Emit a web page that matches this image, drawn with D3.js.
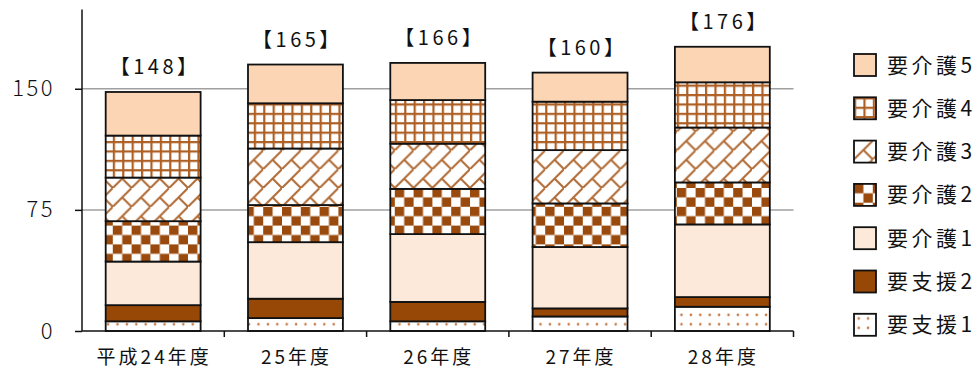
<!DOCTYPE html>
<html>
<head>
<meta charset="utf-8">
<script src="https://cdn.jsdelivr.net/npm/d3@7"></script>
<style>
  html, body { margin: 0; padding: 0; background: #fff; }
  svg { display: block; }
  text { font-family: "Noto Sans CJK JP", "Noto Sans", sans-serif; fill: #111; }
</style>
</head>
<body>
<svg id="chart" width="980" height="370"></svg>
<script>
// 年度別 要介護度別 人数
const categories = ["平成24年度", "25年度", "26年度", "27年度", "28年度"];
const seriesNames = ["要支援1", "要支援2", "要介護1", "要介護2", "要介護3", "要介護4", "要介護5"];
const shien1 = [6, 8, 6, 9, 15];
const shien2 = [10, 12, 12, 5, 6];
const kaigo1 = [27, 35, 42, 38, 45];
const kaigo2 = [25, 23, 28, 27, 26];
const kaigo3 = [27, 35, 28, 33, 34];
const kaigo4 = [26, 28, 27, 30, 28];
const kaigo5 = [27, 24, 23, 18, 22];
const yTicks = [0, 75, 150];

const seriesValues = [shien1, shien2, kaigo1, kaigo2, kaigo3, kaigo4, kaigo5];
const rows = categories.map((c, i) => {
  const r = { category: c };
  seriesNames.forEach((s, k) => { r[s] = seriesValues[k][i]; });
  return r;
});
const totals = categories.map((c, i) => d3.sum(seriesValues, v => v[i]));

const svg = d3.select("#chart");
const brown = "#9a4a0c";
const lineBrown = "#ad5f24";

// fill patterns
const defs = svg.append("defs");
const u = 9.4;

const pGrid = defs.append("pattern").attr("id", "p-grid")
  .attr("patternUnits", "userSpaceOnUse").attr("width", u).attr("height", u);
pGrid.append("rect").attr("width", u).attr("height", u).attr("fill", "#fff");
pGrid.append("rect").attr("x", 0).attr("y", 0).attr("width", 2.2).attr("height", u).attr("fill", lineBrown);
pGrid.append("rect").attr("x", 0).attr("y", 0).attr("width", u).attr("height", 2.2).attr("fill", lineBrown);

const pChk = defs.append("pattern").attr("id", "p-check")
  .attr("patternUnits", "userSpaceOnUse").attr("width", 2 * u).attr("height", 2 * u);
pChk.append("rect").attr("width", 2 * u).attr("height", 2 * u).attr("fill", "#fff");
pChk.append("rect").attr("x", 0).attr("y", 0).attr("width", u).attr("height", u).attr("fill", brown);
pChk.append("rect").attr("x", u).attr("y", u).attr("width", u).attr("height", u).attr("fill", brown);

const B = 2 * u;
const pBrick = defs.append("pattern").attr("id", "p-brick")
  .attr("patternUnits", "userSpaceOnUse").attr("width", B).attr("height", B);
pBrick.append("rect").attr("width", B).attr("height", B).attr("fill", "#fff");
pBrick.append("path")
  .attr("d", `M${-2},${B + 2}L${B + 2},${-2}M${B / 2},${B / 2}L${B + 2},${B + 2}M${-2},${-2}L0,0`)
  .attr("stroke", "#b06a34").attr("stroke-width", 2).attr("fill", "none");

const pDot = defs.append("pattern").attr("id", "p-dots")
  .attr("patternUnits", "userSpaceOnUse").attr("width", u).attr("height", u);
pDot.append("rect").attr("width", u).attr("height", u).attr("fill", "#fff");
pDot.append("circle").attr("cx", u / 2).attr("cy", u / 2).attr("r", 1.3).attr("fill", "#c57a45");

const fills = {
  "要支援1": "url(#p-dots)",
  "要支援2": "#974706",
  "要介護1": "#fde9d9",
  "要介護2": "url(#p-check)",
  "要介護3": "url(#p-brick)",
  "要介護4": "url(#p-grid)",
  "要介護5": "#fcd5b4"
};

// scales
const x = d3.scaleBand().domain(categories).range([82, 793.5]).paddingInner(0.333).paddingOuter(0.1665);
const y = d3.scaleLinear().domain([0, 200]).range([331, 8]);

// gridlines
svg.append("g").selectAll("line").data(yTicks.filter(t => t > 0)).join("line")
  .attr("x1", 82).attr("x2", 793.5)
  .attr("y1", d => y(d)).attr("y2", d => y(d))
  .attr("stroke", "#a0a0a0").attr("stroke-width", 1.5);

// stacked bars
const stack = d3.stack().keys(seriesNames)(rows);
svg.append("g").selectAll("g").data(stack).join("g")
  .attr("fill", d => fills[d.key])
  .selectAll("rect").data(d => d).join("rect")
  .attr("x", d => x(d.data.category))
  .attr("width", x.bandwidth())
  .attr("y", d => y(d[1]))
  .attr("height", d => y(d[0]) - y(d[1]))
  .attr("stroke", "#111").attr("stroke-width", 1.8);

// total labels
svg.append("g").selectAll("text").data(categories).join("text")
  .attr("x", d => x(d) + x.bandwidth() / 2 + 2)
  .attr("y", (d, i) => y(totals[i]) - 25)
  .attr("text-anchor", "middle")
  .attr("dy", "0.36em")
  .attr("font-size", 20)
  .attr("letter-spacing", 3.5)
  .text((d, i) => `【${totals[i]}】`);

// y axis
const yAxis = svg.append("g").attr("transform", "translate(82,0)")
  .call(d3.axisLeft(y).tickValues(yTicks).tickSize(7).tickPadding(20).tickFormat(d3.format("d")));
yAxis.select(".domain").remove();
yAxis.selectAll(".tick line").attr("stroke", "#111").attr("stroke-width", 1.5);
yAxis.selectAll(".tick text").attr("font-size", 22).attr("fill", "#222")
  .attr("font-weight", 300)
  .style("font-family", '"Noto Sans CJK JP", sans-serif').attr("letter-spacing", 2.5);
svg.append("line").attr("x1", 82).attr("x2", 82).attr("y1", y(199)).attr("y2", y(0))
  .attr("stroke", "#111").attr("stroke-width", 1.5);

// x axis
svg.append("line").attr("x1", 82).attr("x2", 793.5).attr("y1", y(0)).attr("y2", y(0))
  .attr("stroke", "#111").attr("stroke-width", 1.5);
const bounds = categories.map(c => x(c) - x.step() * x.paddingInner() / 2).concat([793.5]);
svg.append("g").selectAll("line").data(bounds.slice(1)).join("line")
  .attr("x1", d => d).attr("x2", d => d).attr("y1", y(0)).attr("y2", y(0) + 6)
  .attr("stroke", "#111").attr("stroke-width", 1.5);
svg.append("g").selectAll("text").data(categories).join("text")
  .attr("x", d => x(d) + x.bandwidth() / 2 + 1)
  .attr("y", 364)
  .attr("text-anchor", "middle")
  .attr("font-size", 19)
  .attr("letter-spacing", 3)
  .text(d => d);

// legend (top: 要介護5)
const legendItems = seriesNames.slice().reverse();
const lg = svg.append("g").selectAll("g").data(legendItems).join("g")
  .attr("transform", (d, i) => `translate(854,${54 + i * 43.3})`);
lg.append("rect").attr("width", 22).attr("height", 22)
  .attr("fill", d => fills[d]).attr("stroke", "#111").attr("stroke-width", 1.8);
lg.append("text").attr("x", 33).attr("y", 11).attr("dy", "0.36em")
  .attr("font-size", 21).attr("letter-spacing", 3.5)
  .text(d => d);
</script>
</body>
</html>
